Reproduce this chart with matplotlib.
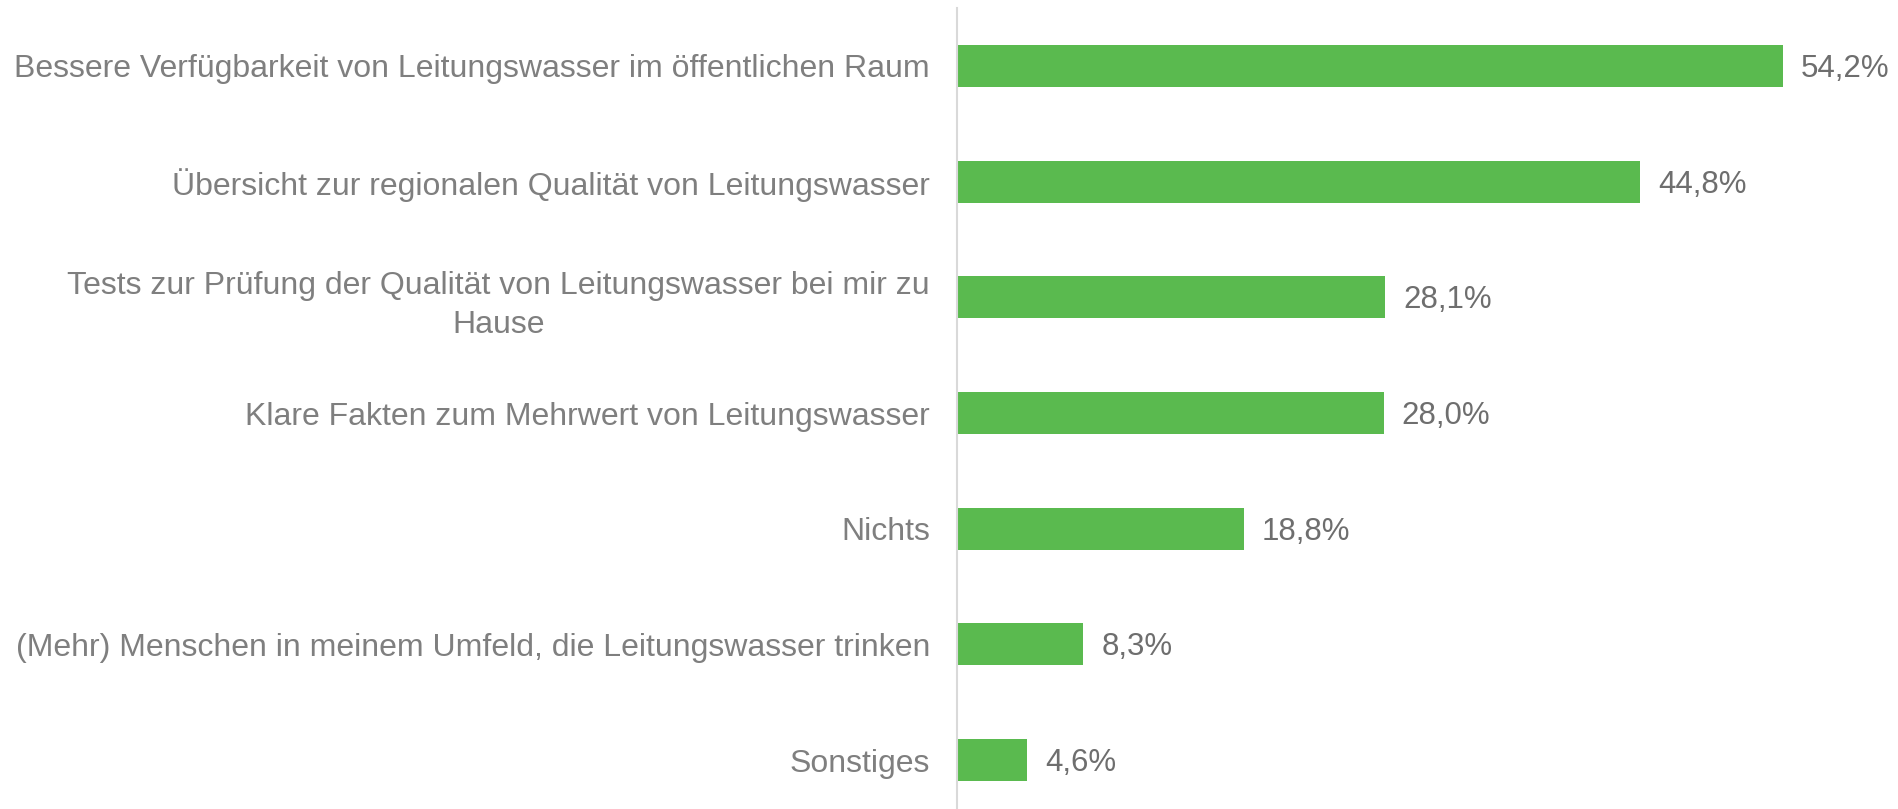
import matplotlib
matplotlib.use("Agg")
import matplotlib.pyplot as plt

categories = [
    "Bessere Verfügbarkeit von Leitungswasser im öffentlichen Raum",
    "Übersicht zur regionalen Qualität von Leitungswasser",
    "Tests zur Prüfung der Qualität von Leitungswasser bei mir zu\nHause",
    "Klare Fakten zum Mehrwert von Leitungswasser",
    "Nichts",
    "(Mehr) Menschen in meinem Umfeld, die Leitungswasser trinken",
    "Sonstiges",
]
values = [54.2, 44.8, 28.1, 28.0, 18.8, 8.3, 4.6]
value_labels = ["54,2%", "44,8%", "28,1%", "28,0%", "18,8%", "8,3%", "4,6%"]

plt.rcParams['font.family'] = ['Liberation Sans', 'DejaVu Sans']

W, H = 1899, 809
fig = plt.figure(figsize=(W / 100, H / 100), dpi=100)
x0 = 957
top = 8
total_h = 810
ax = fig.add_axes([x0 / W, (H - top - total_h) / H, (W - x0) / W, total_h / H])

n = len(categories)
ypos = list(range(n))
ax.barh(ypos, values, height=0.363, color="#5ABA4F", zorder=2)
ax.set_ylim(n - 0.5, -0.5)
ax.set_xlim(0, (W - x0) / 15.24)

ax.set_yticks(ypos)
ax.set_yticklabels(categories, fontsize=23, color="#7f7f7f",
                   multialignment="center", linespacing=1.4)
ax.tick_params(axis="y", length=0, pad=19.5)
ax.set_xticks([])

for s in ["top", "right", "bottom"]:
    ax.spines[s].set_visible(False)
ax.spines["left"].set_color("#d9d9d9")
ax.spines["left"].set_linewidth(1.5)

for y, v, lab in zip(ypos, values, value_labels):
    ax.annotate(lab, xy=(v, y), xytext=(18, -3), textcoords="offset pixels",
                va="center", ha="left", fontsize=22.5, color="#6e6e6e")

fig.savefig("out.png", dpi=100)
